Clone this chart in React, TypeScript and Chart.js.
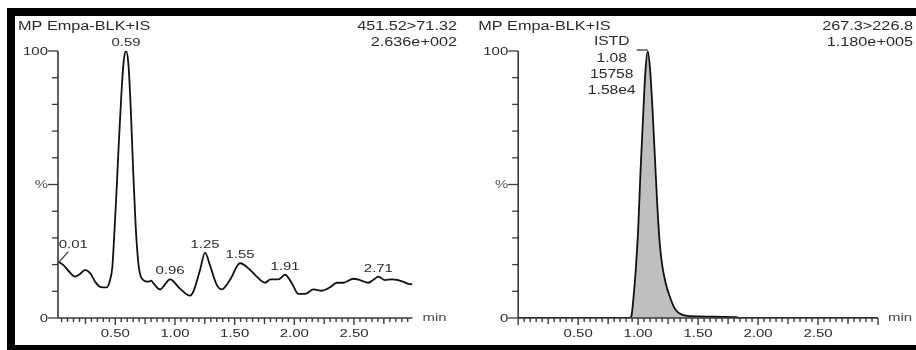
import React, { useEffect, useRef } from 'react';
import { Chart, registerables } from 'chart.js';

Chart.register(...registerables);

// ---------- data ----------
const leftTimes = [0.023, 0.065, 0.107, 0.163, 0.205, 0.247, 0.289, 0.331, 0.373, 0.429, 0.456, 0.475, 0.49, 0.51, 0.53, 0.55, 0.57, 0.59, 0.61, 0.63, 0.65, 0.67, 0.69, 0.71, 0.735, 0.777, 0.8, 0.82, 0.875, 0.959, 1.04, 1.126, 1.15, 1.21, 1.252, 1.294, 1.35, 1.39, 1.46, 1.545, 1.63, 1.685, 1.755, 1.8, 1.866, 1.922, 1.977, 2.034, 2.09, 2.16, 2.23, 2.3, 2.355, 2.41, 2.494, 2.55, 2.62, 2.66, 2.704, 2.76, 2.815, 2.87, 2.91, 2.955, 2.99];
const leftValues = [21.1, 19.8, 17.7, 15.5, 16.5, 18, 16.8, 13.6, 11.7, 11.5, 14.2, 19, 30, 47, 66, 83, 96, 100, 95, 78, 55, 35, 22, 16, 14.2, 13.6, 14, 13, 10.7, 14.5, 11.1, 8.4, 9.5, 18, 24.5, 19.6, 12.4, 10.7, 14.2, 20.5, 18, 15.5, 13.2, 14.5, 14.5, 16.2, 13.2, 9.0, 9.0, 10.7, 10.2, 11.5, 13.2, 13.2, 14.7, 14.2, 13.2, 14.2, 15.5, 14.2, 14.5, 14.2, 13.6, 12.8, 12.6];

const leftPeakLabels = ['0.01', '0.59', '0.96', '1.25', '1.55', '1.91', '2.71'];
const leftPeakTimes = [0.023, 0.59, 0.959, 1.252, 1.545, 1.922, 2.704];
const leftPeakHeights = [21.1, 100, 14.5, 24.5, 20.5, 16.2, 15.5];

const rightTimes = [0, 0.93, 0.945, 0.96, 0.98, 1.0, 1.02, 1.04, 1.06, 1.08, 1.1, 1.12, 1.14, 1.16, 1.18, 1.2, 1.23, 1.26, 1.3, 1.33, 1.37, 1.41, 1.5, 1.6, 1.7, 1.82, 1.84, 3.0];
const rightValues = [0, 0, 1, 7, 18, 33, 55, 74, 92, 100, 93, 78, 60, 42, 28, 20, 13, 8.5, 4, 2.2, 1.2, 0.8, 0.6, 0.5, 0.4, 0.3, 0, 0];

const rightPeakTime = 1.08;
const rightPeakHeight = 100;
const rightPeakLines = ['ISTD', '1.08', '15758', '1.58e4'];

const xTickValues = [0.5, 1.0, 1.5, 2.0, 2.5];
const xTickLabels = ['0.50', '1.00', '1.50', '2.00', '2.50'];
const yTickValues = [100, 50, 0];
const yTickLabels = ['100', '%', '0'];

const leftTitle = 'MP Empa-BLK+IS';
const leftTransition = '451.52>71.32';
const leftMaxIntensity = '2.636e+002';
const rightTitle = 'MP Empa-BLK+IS';
const rightTransition = '267.3>226.8';
const rightMaxIntensity = '1.180e+005';
const xUnit = 'min';

// ---------- drawing helpers ----------
const FONT = '"Liberation Sans", Arial, sans-serif';
const SX = 1.3;

function txt(ctx: CanvasRenderingContext2D, s: string, x: number, y: number, align: CanvasTextAlign, size: number, color: string) {
  ctx.save();
  ctx.font = `${size}px ${FONT}`;
  ctx.fillStyle = color;
  ctx.textBaseline = 'middle';
  ctx.translate(x, y);
  ctx.scale(SX, 1);
  ctx.textAlign = align;
  ctx.fillText(s, 0, 0);
  ctx.restore();
}

function line(ctx: CanvasRenderingContext2D, x1: number, y1: number, x2: number, y2: number, w: number, c: string) {
  ctx.save();
  ctx.strokeStyle = c;
  ctx.lineWidth = w;
  ctx.beginPath();
  ctx.moveTo(x1, y1);
  ctx.lineTo(x2, y2);
  ctx.stroke();
  ctx.restore();
}

type PanelCfg = {
  title: string;
  transition: string;
  maxIntensity: string;
  annotate: (chart: any) => void;
};

function makePlugin(cfg: PanelCfg) {
  return {
    id: 'chromAxes',
    afterDraw(chart: any) {
      const { ctx, chartArea, scales } = chart;
      const xs = scales.x;
      const ys = scales.y;
      const axisColor = '#3a3a3a';
      const textColor = '#2a2a2a';
      const left = chartArea.left;
      const bottom = chartArea.bottom;
      const right = chartArea.right;

      // y axis line
      line(ctx, left, ys.getPixelForValue(0), left, ys.getPixelForValue(100), 1.6, axisColor);
      // x axis line
      line(ctx, left, bottom, right, bottom, 1.6, axisColor);

      // y ticks
      for (let i = 0; i <= 10; i++) {
        const v = i * 10;
        const py = ys.getPixelForValue(v);
        const labeled = yTickValues.indexOf(v) >= 0;
        line(ctx, left - (labeled ? 10 : 6), py, left, py, 1.3, axisColor);
      }
      yTickValues.forEach((v, i) => {
        const py = ys.getPixelForValue(v);
        txt(ctx, yTickLabels[i], left - 10, py + 0.5, 'right', 11.5, v === 50 ? '#555' : textColor);
      });

      // x ticks
      for (let i = 0; i <= 60; i++) {
        const v = i * 0.05;
        if (v < xs.min - 1e-6 || v > xs.max + 1e-6) continue;
        const px = xs.getPixelForValue(v);
        const len = i % 10 === 0 ? 7 : i % 5 === 0 ? 6 : 4;
        line(ctx, px, bottom, px, bottom + len, 1.4, axisColor);
      }
      xTickValues.forEach((v, i) => {
        txt(ctx, xTickLabels[i], xs.getPixelForValue(v), bottom + 16, 'center', 11.5, textColor);
      });
      txt(ctx, xUnit, right + 10, bottom, 'left', 11.5, '#4a4a4a');

      // header texts
      txt(ctx, cfg.title, left - 40, 27, 'left', 12.5, textColor);
      txt(ctx, cfg.transition, chart.width - 3, 27, 'right', 12.5, textColor);
      txt(ctx, cfg.maxIntensity, chart.width - 3, 43, 'right', 12.5, textColor);

      cfg.annotate(chart);
    },
  };
}

function annotateLeft(chart: any) {
  const { ctx, scales } = chart;
  leftPeakLabels.forEach((lab, i) => {
    const px = scales.x.getPixelForValue(leftPeakTimes[i]);
    const py = scales.y.getPixelForValue(leftPeakHeights[i]);
    if (i === 0) {
      line(ctx, px + 1, py, px + 10, py - 10, 1.2, '#333');
      txt(ctx, lab, px + 15, py - 17, 'center', 11.5, '#2a2a2a');
    } else {
      txt(ctx, lab, px, py - 8, 'center', 11.5, '#2a2a2a');
    }
  });
}

function annotateRight(chart: any) {
  const { ctx, scales } = chart;
  const px = scales.x.getPixelForValue(rightPeakTime);
  const py = scales.y.getPixelForValue(rightPeakHeight);
  line(ctx, px - 11, py - 1, px, py - 1, 1.3, '#333');
  rightPeakLines.forEach((s, i) => {
    txt(ctx, s, px - 36, py - 9 + i * 16.3, 'center', 12, '#2a2a2a');
  });
}

function Panel(props: {
  left: number;
  width: number;
  times: number[];
  values: number[];
  xMin: number;
  xMax: number;
  padLeft: number;
  padRight: number;
  filled: boolean;
  cfg: PanelCfg;
}) {
  const ref = useRef<HTMLCanvasElement | null>(null);
  useEffect(() => {
    const canvas = ref.current;
    if (!canvas) return;
    const chart = new Chart(canvas, {
      type: 'line',
      data: {
        datasets: [
          {
            data: props.times.map((t, i) => ({ x: t, y: props.values[i] })),
            borderColor: '#111',
            borderWidth: 1.8,
            pointRadius: 0,
            cubicInterpolationMode: 'monotone',
            fill: props.filled ? 'origin' : false,
            backgroundColor: props.filled ? '#bfbfbf' : 'transparent',
          },
        ],
      },
      options: {
        animation: false,
        responsive: false,
        events: [],
        layout: { padding: { left: props.padLeft, right: props.padRight, top: 51, bottom: 32 } },
        plugins: { legend: { display: false }, tooltip: { enabled: false } },
        scales: {
          x: { type: 'linear', min: props.xMin, max: props.xMax, display: false },
          y: { type: 'linear', min: 0, max: 100, display: false },
        },
      },
      plugins: [makePlugin(props.cfg)],
    } as any);
    return () => chart.destroy();
  }, []);
  return (
    <canvas
      ref={ref}
      width={props.width}
      height={350}
      style={{ position: 'fixed', left: props.left, top: 0, width: props.width, height: 350 }}
    />
  );
}

export default function App() {
  return (
    <div>
      <Panel
        left={0}
        width={460}
        times={leftTimes}
        values={leftValues}
        xMin={0.02}
        xMax={2.99}
        padLeft={58}
        padRight={47.5}
        filled={false}
        cfg={{ title: leftTitle, transition: leftTransition, maxIntensity: leftMaxIntensity, annotate: annotateLeft }}
      />
      <Panel
        left={460}
        width={456}
        times={rightTimes}
        values={rightValues}
        xMin={0}
        xMax={3.0}
        padLeft={58.2}
        padRight={38}
        filled={true}
        cfg={{ title: rightTitle, transition: rightTransition, maxIntensity: rightMaxIntensity, annotate: annotateRight }}
      />
      <div
        style={{
          position: 'fixed',
          left: 7,
          top: 8,
          width: 909,
          height: 342,
          boxSizing: 'border-box',
          borderLeft: '8px solid #000',
          borderTop: '8px solid #000',
          borderBottom: '5px solid #000',
          pointerEvents: 'none',
        }}
      />
    </div>
  );
}
